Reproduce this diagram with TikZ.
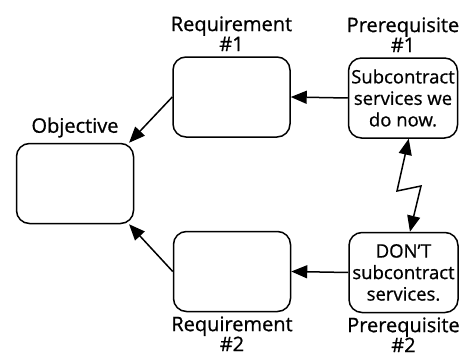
\documentclass[tikz,border=0pt]{standalone}
\usepackage{fontspec}
\setmainfont{Open Sans}[FakeBold=0.8]
\usetikzlibrary{arrows.meta,positioning}

\begin{document}
\begin{tikzpicture}[x=1pt,y=-1pt,
  box/.style={draw,line width=1.5pt,rounded corners=13pt,minimum width=117pt,minimum height=80pt,align=center,inner sep=0pt,font=\fontsize{18.5}{21.5}\selectfont},
  lbl/.style={align=center,inner sep=0pt,font=\fontsize{20}{20}\selectfont},
  arr/.style={-{Triangle[length=16pt,width=13pt]},line width=1.5pt}]
\useasboundingbox (0,0) rectangle (472,356);
\node[box] (obj) at (75,183.5) {};
\node[box] (req1) at (231.5,97) {};
\node[box] (req2) at (232,271.5) {};
\node[box,minimum width=109pt] (pre1) at (403,98) {Subcontract\\services we\\do now.};
\node[box,minimum width=109pt] (pre2) at (403.5,272.5) {DON'T\\subcontract\\services.};
\node[lbl,above=5pt of obj] (objlbl) {Objective};
\node[lbl,above=5pt of req1] (req1lbl) {Requirement\\\#1};
\node[lbl,above=5pt of pre1] (pre1lbl) {Prerequisite\\\#1};
\node[lbl,below=4pt of req2] (req2lbl) {Requirement\\\#2};
\node[lbl,below=4pt of pre2] (pre2lbl) {Prerequisite\\\#2};
% connectors
\draw[arr] (pre1.west) -- (req1.east);
\draw[arr] (pre2.west) -- (req2.east);
\draw[arr] (req1.west) -- (obj.37);
\draw[arr] (req2.west) -- (obj.-37);
\coordinate (zig1) at (397,191);
\coordinate (zig2) at (421,186);
\draw[arr,{Triangle[length=16pt,width=13pt]}-{Triangle[length=16pt,width=13pt]}] (pre1.-82) -- (zig1) -- (zig2) -- (pre2.81);
\end{tikzpicture}
\end{document}
